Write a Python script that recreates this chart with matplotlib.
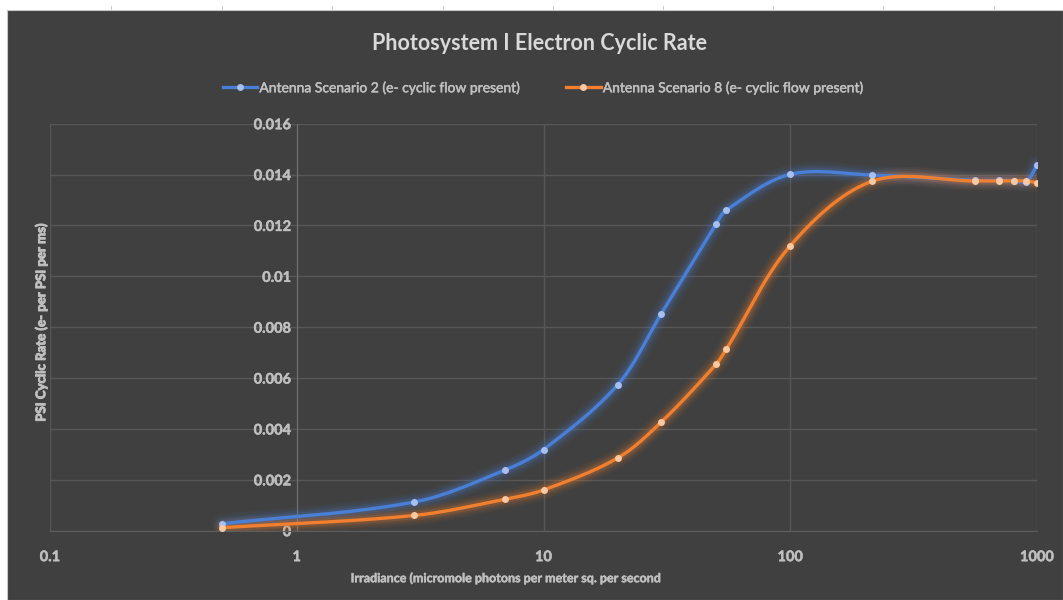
import numpy as np
import matplotlib
matplotlib.use('Agg')
import matplotlib.pyplot as plt
import matplotlib.patheffects as pe
from matplotlib.patches import Rectangle
from matplotlib.lines import Line2D

plt.rcParams['font.family'] = ['Lato', 'DejaVu Sans']

# Data
irradiance = [0.5, 3, 7, 10, 20, 30, 50, 55, 100, 215, 561, 703, 809, 904, 1000]
scenario2 = [0.000275, 0.00113, 0.00239, 0.00319, 0.00574, 0.00853, 0.01205, 0.0126,
             0.01401, 0.01398, 0.01377, 0.01377, 0.01376, 0.01372, 0.01437]
scenario8 = [0.00012, 0.0006, 0.00124, 0.0016, 0.00286, 0.00427, 0.00654, 0.00713,
             0.0112, 0.01374, 0.01375, 0.01375, 0.01375, 0.01375, 0.01368]

x_ticks = [0.1, 1, 10, 100, 1000]
x_tick_labels = ['0.1', '1', '10', '100', '1000']
y_ticks = [0, 0.002, 0.004, 0.006, 0.008, 0.01, 0.012, 0.014, 0.016]
y_tick_labels = ['0', '0.002', '0.004', '0.006', '0.008', '0.01', '0.012', '0.014', '0.016']

BG = '#404040'
BLUE = '#4a7fd6'
ORANGE = '#f07f2f'
TXT = '#bfbfbf'
thick = [pe.withStroke(linewidth=0.7, foreground=TXT)]
semi = [pe.withStroke(linewidth=0.35, foreground=TXT)]


def smooth(xs, ys, n=40):
    # smoothed line: cubic Bezier through the points, chord-length tangents (log-x space)
    u = np.log10(xs) * 246.75
    v = np.asarray(ys) / 0.002 * 50.9
    pts = np.column_stack([u, v])
    P = np.vstack([pts[0], pts, pts[-1]])
    t = np.linspace(0, 1, n)[:, None]
    out = []
    for i in range(1, len(P) - 2):
        p0, p1, p2, p3 = P[i - 1], P[i], P[i + 1], P[i + 2]
        d01 = np.hypot(*(p1 - p0))
        d12 = np.hypot(*(p2 - p1))
        d23 = np.hypot(*(p3 - p2))
        t1 = (p2 - p0) / max(d01 + d12, 1e-9)
        t2 = (p3 - p1) / max(d12 + d23, 1e-9)
        c1 = p1 + t1 * d12 / 3
        c2 = p2 - t2 * d12 / 3
        out.append((1 - t) ** 3 * p1 + 3 * (1 - t) ** 2 * t * c1
                   + 3 * (1 - t) * t ** 2 * c2 + t ** 3 * p2)
    out = np.vstack(out)
    return 10 ** (out[:, 0] / 246.75), out[:, 1] / 50.9 * 0.002


fig = plt.figure(figsize=(10.63, 6.0), dpi=100, facecolor='white')
fig.patches.append(Rectangle((7 / 1063, 0), 1 - 7 / 1063, 1 - 10 / 600,
                             transform=fig.transFigure, facecolor=BG,
                             edgecolor='#c8c8c8', linewidth=0.8, zorder=-5))
# spreadsheet column markers in the white strip
for px in [111, 222, 332, 443, 553, 663, 773, 883, 994]:
    fig.lines.append(Line2D([px / 1063, px / 1063], [1 - 6 / 600, 1 - 10 / 600],
                            transform=fig.transFigure, color='#d0d0d0', linewidth=0.8, zorder=-5))

ax = fig.add_axes([50 / 1063, 1 - 530.7 / 600, (1037 - 50) / 1063, (530.7 - 123.7) / 600])
ax.set_zorder(2)
ax.patch.set_alpha(0)
ax.set_xscale('log')
ax.set_xlim(0.1, 1000)
ax.set_ylim(0, 0.016)

# y axis crosses at x = 1 (set before styling tick labels, it resets the ticks)
for s in ['top', 'right']:
    ax.spines[s].set_visible(False)
ax.spines['bottom'].set_color('#5e5e5e')
ax.spines['left'].set_position(('data', 1))
ax.spines['left'].set_color('#707070')

ax.tick_params(axis='both', length=0, colors=TXT, labelsize=10.5)
ax.tick_params(axis='x', pad=14)
ax.tick_params(axis='y', pad=4)
ax.set_xticks(x_ticks)
ax.set_xticklabels(x_tick_labels, fontweight='bold', path_effects=semi)
ax.xaxis.set_minor_locator(matplotlib.ticker.NullLocator())
ax.set_yticks(y_ticks)
ax.set_yticklabels(y_tick_labels, fontweight='bold', path_effects=semi)

ax.grid(True, color='#575757', linewidth=1.0)
ax.set_axisbelow(True)

series = [(scenario2, BLUE, '#a8c0f0', 'Antenna Scenario 2 (e- cyclic flow present)'),
          (scenario8, ORANGE, '#f8c9a2', 'Antenna Scenario 8 (e- cyclic flow present)')]
handles = []
for ys, col, mcol, lab in series:
    sx, sy = smooth(irradiance, ys)
    for lw, a in [(14, 0.05), (11, 0.07), (8, 0.1), (5.5, 0.16)]:
        ax.plot(sx, sy, color=col, linewidth=lw, alpha=a, solid_capstyle='round', zorder=3)
    ax.plot(sx, sy, color=col, linewidth=2.4, solid_capstyle='round', zorder=4)
    ax.plot(irradiance, ys, linestyle='none', marker='o', markersize=5,
            color=mcol, markeredgewidth=0, zorder=5)
    handles.append(Line2D([0], [0], color=col, linewidth=2.4, marker='o',
                          markersize=5, markerfacecolor=mcol, markeredgewidth=0, label=lab))

leg = fig.legend(handles=handles, loc='center', bbox_to_anchor=(543 / 1063, 1 - 88 / 600),
                 ncol=2, frameon=False, fontsize=10, labelcolor=TXT,
                 handlelength=2.5, handletextpad=0.15, columnspacing=3.3, numpoints=1)
for txt in leg.get_texts():
    txt.set_path_effects(semi)

fig.text(540 / 1063, 1 - 43 / 600, 'Photosystem I Electron Cyclic Rate', ha='center', va='center',
         fontsize=15.5, fontweight='bold', color='#d9d9d9')
fig.text(506 / 1063, 1 - 578 / 600, 'Irradiance (micromole photons per meter sq. per second',
         ha='center', va='center', fontsize=9, fontweight='bold', color=TXT, path_effects=semi)
fig.text(41 / 1063, 1 - 322 / 600, 'PSI Cyclic Rate (e- per PSI per ms)', ha='center', va='center',
         rotation=90, fontsize=9.5, fontweight='bold', color=TXT, path_effects=thick)

fig.savefig('out.png', dpi=100, facecolor='white')
